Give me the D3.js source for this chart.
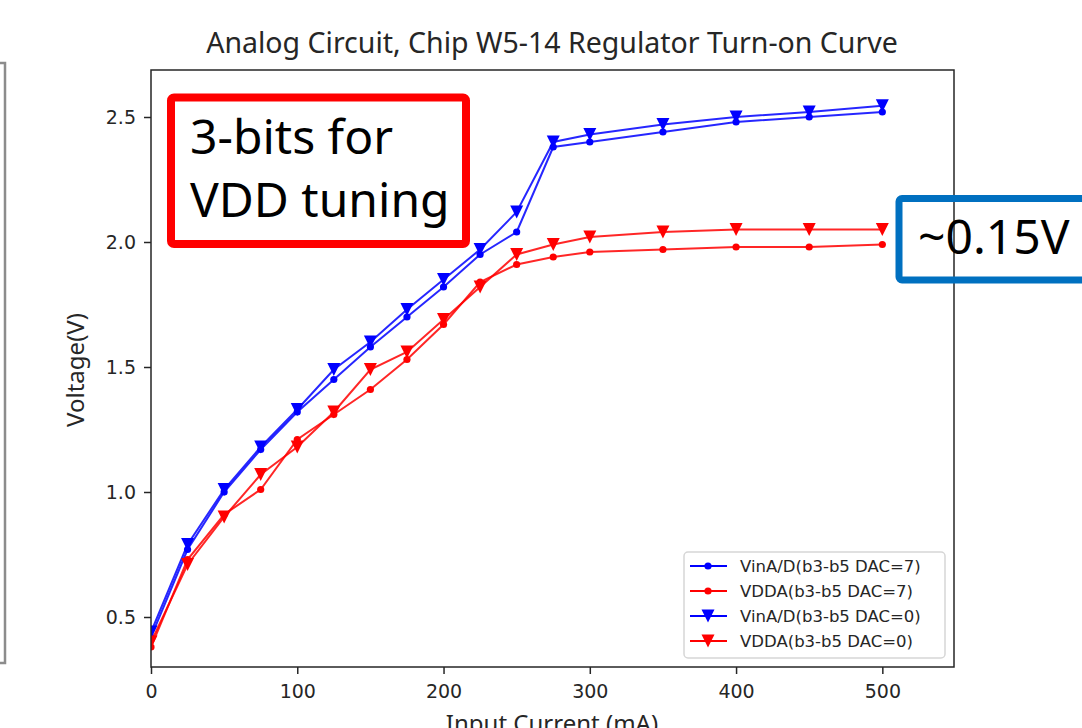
<!DOCTYPE html>
<html lang="en">

<head>
  <meta charset="UTF-8">
  <title>Regulator Turn-on Curve</title>
  <style>
    * {
      margin: 0;
      padding: 0;
      box-sizing: border-box;
    }

    body {
      background-color: white;
      width: 1082px;
      height: 728px;
      overflow: hidden;
    }

    #chart {
      display: block;
    }

    .tick text {
      font-family: "DejaVu Sans", sans-serif;
      font-size: 19px;
      fill: #262626;
    }

    .tick line,
    .domain {
      stroke: #262626;
    }

    .axis-label,
    .title {
      font-family: "Noto Sans", sans-serif;
      fill: #262626;
    }

    .legend-text {
      font-family: "DejaVu Sans", sans-serif;
      font-size: 16.5px;
      fill: #262626;
    }

    .note {
      font-family: "Noto Sans", sans-serif;
      font-size: 48px;
      fill: black;
    }
  </style>
  <script src="https://cdnjs.cloudflare.com/ajax/libs/d3/7.8.5/d3.min.js"></script>
</head>

<body>
  <svg id="chart" width="1082" height="728"></svg>

  <script>
    // input current (mA)
    const currents = [0, 25, 50, 75, 100, 125, 150, 175, 200, 225, 250, 275, 300, 350, 400, 450, 500];

    // measured voltages (V)
    const vinDac7 = [0.42, 0.77, 1.00, 1.17, 1.32, 1.45, 1.58, 1.70, 1.82, 1.95, 2.04, 2.38, 2.40, 2.44, 2.48, 2.50, 2.52];
    const vddaDac7 = [0.38, 0.73, 0.91, 1.01, 1.21, 1.31, 1.41, 1.53, 1.67, 1.84, 1.91, 1.94, 1.96, 1.97, 1.98, 1.98, 1.99];
    const vinDac0 = [0.44, 0.79, 1.01, 1.18, 1.33, 1.49, 1.60, 1.73, 1.85, 1.97, 2.12, 2.40, 2.43, 2.47, 2.50, 2.52, 2.545];
    const vddaDac0 = [0.40, 0.71, 0.90, 1.07, 1.18, 1.32, 1.49, 1.56, 1.69, 1.82, 1.95, 1.99, 2.02, 2.04, 2.05, 2.05, 2.05];

    const seriesNames = ['VinA/D(b3-b5 DAC=7)', 'VDDA(b3-b5 DAC=7)', 'VinA/D(b3-b5 DAC=0)', 'VDDA(b3-b5 DAC=0)'];
    const xTicks = [0, 100, 200, 300, 400, 500];
    const yTicks = [0.5, 1.0, 1.5, 2.0, 2.5];

    const series = [
      { name: seriesNames[0], values: vinDac7, color: '#0000ff', marker: 'dot' },
      { name: seriesNames[1], values: vddaDac7, color: '#ff0000', marker: 'dot' },
      { name: seriesNames[2], values: vinDac0, color: '#0000ff', marker: 'tri' },
      { name: seriesNames[3], values: vddaDac0, color: '#ff0000', marker: 'tri' }
    ];

    const plot = { left: 151, right: 954, top: 70, bottom: 667 };

    const svg = d3.select('#chart');

    const x = d3.scaleLinear().domain([0, 549]).range([plot.left, plot.right]);
    const y = d3.scaleLinear().domain([0.3, 2.688]).range([plot.bottom, plot.top]);

    // left edge of a neighbouring box, cut off in the screenshot
    svg.append('path')
      .attr('d', 'M0,63 H5 V663 H0')
      .attr('fill', 'none')
      .attr('stroke', '#8c8c8c')
      .attr('stroke-width', 2.5);

    svg.append('clipPath')
      .attr('id', 'plot-clip')
      .append('rect')
      .attr('x', plot.left)
      .attr('y', plot.top)
      .attr('width', plot.right - plot.left)
      .attr('height', plot.bottom - plot.top);

    // axes
    const xAxis = svg.append('g')
      .attr('transform', `translate(0,${plot.bottom})`)
      .call(d3.axisBottom(x).tickValues(xTicks).tickFormat(d3.format('d')).tickSizeOuter(0).tickSize(7).tickPadding(6));

    const yAxis = svg.append('g')
      .attr('transform', `translate(${plot.left},0)`)
      .call(d3.axisLeft(y).tickValues(yTicks).tickFormat(d3.format('.1f')).tickSizeOuter(0).tickSize(7).tickPadding(8));

    xAxis.select('.domain').remove();
    yAxis.select('.domain').remove();
    svg.selectAll('.tick line').attr('stroke-width', 1.5);
    xAxis.selectAll('.tick text').attr('dy', '0.95em');
    yAxis.selectAll('.tick text').attr('dy', '0.36em');

    // series
    const line = d3.line()
      .x((d, i) => x(currents[i]))
      .y(d => y(d));

    const triangle = s => `M0,${s / 2} L${-s / 2},${-s / 2} L${s / 2},${-s / 2} Z`;

    const dataLayer = svg.append('g').attr('clip-path', 'url(#plot-clip)');

    series.forEach(s => {
      const g = dataLayer.append('g');
      g.append('path')
        .attr('d', line(s.values))
        .attr('fill', 'none')
        .attr('stroke', s.color)
        .attr('stroke-width', 2)
        .attr('stroke-opacity', 0.85);

      if (s.marker === 'dot') {
        g.selectAll('circle')
          .data(s.values)
          .enter()
          .append('circle')
          .attr('cx', (d, i) => x(currents[i]))
          .attr('cy', d => y(d))
          .attr('r', 3.6)
          .attr('fill', s.color);
      } else {
        g.selectAll('path.marker')
          .data(s.values)
          .enter()
          .append('path')
          .attr('class', 'marker')
          .attr('d', triangle(13))
          .attr('transform', (d, i) => `translate(${x(currents[i])},${y(d)})`)
          .attr('fill', s.color);
      }
    });

    // frame
    svg.append('rect')
      .attr('x', plot.left)
      .attr('y', plot.top)
      .attr('width', plot.right - plot.left)
      .attr('height', plot.bottom - plot.top)
      .attr('fill', 'none')
      .attr('stroke', '#262626')
      .attr('stroke-width', 1.5);

    // title and axis labels
    svg.append('text')
      .attr('class', 'title')
      .attr('x', 552)
      .attr('y', 53)
      .attr('text-anchor', 'middle')
      .attr('font-size', 28.5)
      .text('Analog Circuit, Chip W5-14 Regulator Turn-on Curve');

    svg.append('text')
      .attr('class', 'axis-label')
      .attr('x', 552)
      .attr('y', 732)
      .attr('text-anchor', 'middle')
      .attr('font-size', 24)
      .text('Input Current (mA)');

    svg.append('text')
      .attr('class', 'axis-label')
      .attr('transform', 'translate(84,370) rotate(-90)')
      .attr('text-anchor', 'middle')
      .attr('font-size', 24)
      .text('Voltage(V)');

    // legend
    const legend = svg.append('g').attr('transform', 'translate(684,552)');
    legend.append('rect')
      .attr('width', 261)
      .attr('height', 106)
      .attr('rx', 4)
      .attr('fill', 'white')
      .attr('fill-opacity', 0.8)
      .attr('stroke', '#d6d6d6')
      .attr('stroke-width', 1.5);

    series.forEach((s, i) => {
      const row = legend.append('g').attr('transform', `translate(0,${14 + i * 25})`);
      row.append('line')
        .attr('x1', 6)
        .attr('x2', 43)
        .attr('stroke', s.color)
        .attr('stroke-width', 2);
      if (s.marker === 'dot') {
        row.append('circle').attr('cx', 24).attr('r', 3.6).attr('fill', s.color);
      } else {
        row.append('path').attr('d', triangle(13)).attr('transform', 'translate(24,0)').attr('fill', s.color);
      }
      row.append('text')
        .attr('class', 'legend-text')
        .attr('x', 56)
        .attr('dy', '0.36em')
        .text(s.name);
    });

    // annotation boxes
    svg.append('rect')
      .attr('x', 171)
      .attr('y', 97.5)
      .attr('width', 295)
      .attr('height', 146.5)
      .attr('rx', 3)
      .attr('fill', 'none')
      .attr('stroke', '#ff0000')
      .attr('stroke-width', 8);

    svg.append('text').attr('class', 'note').attr('x', 190).attr('y', 154).text('3-bits for');
    svg.append('text').attr('class', 'note').attr('x', 190).attr('y', 217).text('VDD tuning');

    svg.append('rect')
      .attr('x', 899)
      .attr('y', 198.5)
      .attr('width', 220)
      .attr('height', 81.5)
      .attr('rx', 3)
      .attr('fill', 'none')
      .attr('stroke', '#0070c0')
      .attr('stroke-width', 7);

    svg.append('text').attr('class', 'note').attr('x', 918).attr('y', 254).text('~0.15V');
  </script>
</body>

</html>
